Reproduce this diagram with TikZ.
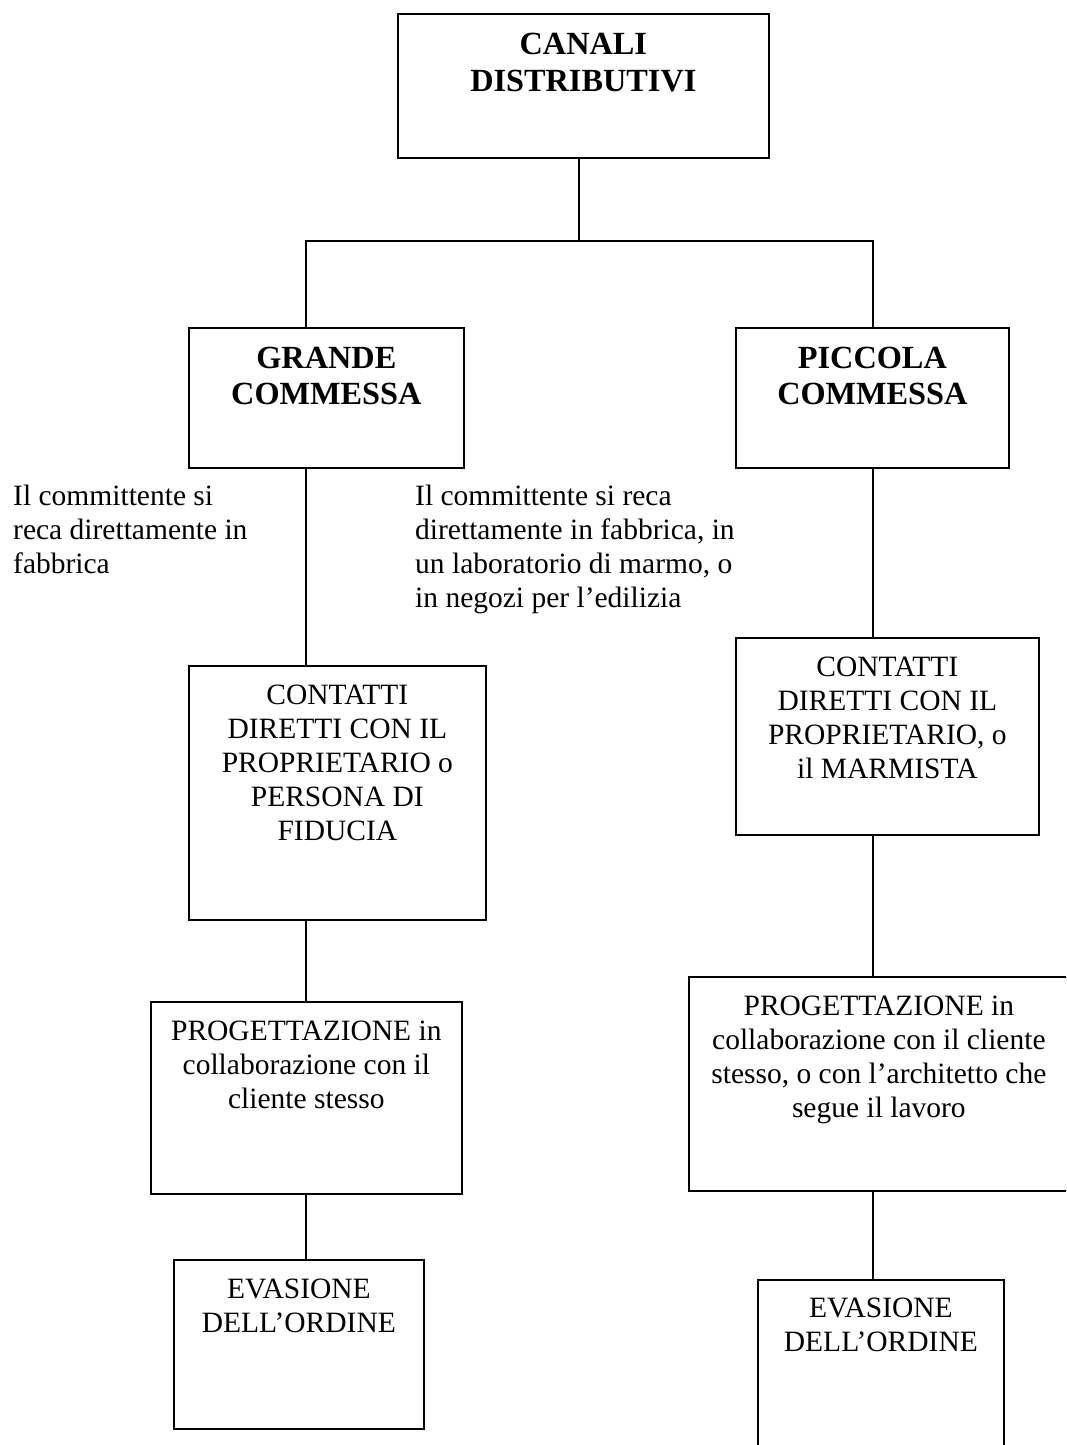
\documentclass[tikz,border=0pt]{standalone}
\usepackage{fontspec}
\setmainfont{Liberation Serif}
\begin{document}
\begin{tikzpicture}[x=1pt,y=-1pt,
  box/.style={draw, line width=1.7pt, inner sep=0pt, anchor=north west},
  txt/.style={font=\fontsize{29.5}{34}\selectfont, align=center, anchor=base, inner sep=0pt},
  btxt/.style={font=\fontsize{32.3}{36}\selectfont\bfseries, align=center, anchor=base, inner sep=0pt},
  note/.style={font=\fontsize{29.5}{34}\selectfont, align=left, anchor=base west, inner sep=0pt},
  link/.style={line width=1.7pt}]
\useasboundingbox (0,0) rectangle (1066,1445);
\clip (0,0) rectangle (1066,1445);
\fill[white] (0,0) rectangle (1066,1445);

% boxes
\node[box, minimum width=371pt, minimum height=144pt] (canali) at (397,13) {};
\node[box, minimum width=275pt, minimum height=140pt] (grande) at (188,327) {};
\node[box, minimum width=273pt, minimum height=140pt] (piccola) at (735,327) {};
\node[box, minimum width=297pt, minimum height=254pt] (contattiL) at (188,665) {};
\node[box, minimum width=311pt, minimum height=192pt] (progL) at (150,1001) {};
\node[box, minimum width=250pt, minimum height=169pt] (evasL) at (173,1259) {};
\node[box, minimum width=303pt, minimum height=197pt] (contattiR) at (735,637) {};
\node[box, minimum width=380pt, minimum height=214pt] (progR) at (688,976) {};
\node[box, minimum width=246pt, minimum height=200pt] (evasR) at (757,1279) {};

% box texts (anchored at the baseline of the last line)
\node[btxt] (tcanali) at ([yshift=-78pt]canali.north) {CANALI\\DISTRIBUTIVI};
\node[btxt] (tgrande) at ([yshift=-77pt]grande.north) {GRANDE\\COMMESSA};
\node[btxt] (tpiccola) at ([yshift=-77pt]piccola.north) {PICCOLA\\COMMESSA};
\node[txt] (tcontattiL) at ([yshift=-175pt]contattiL.north) {CONTATTI\\DIRETTI CON IL\\PROPRIETARIO o\\PERSONA DI\\FIDUCIA};
\node[txt] (tprogL) at ([yshift=-107pt]progL.north) {PROGETTAZIONE in\\collaborazione con il\\cliente stesso};
\node[txt] (tevasL) at ([yshift=-73pt]evasL.north) {EVASIONE\\DELL’ORDINE};
\node[txt] (tcontattiR) at ([yshift=-141pt]contattiR.north) {CONTATTI\\DIRETTI CON IL\\PROPRIETARIO, o\\il MARMISTA};
\node[txt] (tprogR) at ([yshift=-141pt]progR.north) {PROGETTAZIONE in\\collaborazione con il cliente\\stesso, o con l’architetto che\\segue il lavoro};
\node[txt] (tevasR) at ([yshift=-72pt]evasR.north) {EVASIONE\\DELL’ORDINE};

% side notes
\node[note] (noteL) at (13,573) {Il committente si\\reca direttamente in\\fabbrica};
\node[note] (noteR) at (415,607) {Il committente si reca\\direttamente in fabbrica, in\\un laboratorio di marmo, o\\in negozi per l’edilizia};

% connector columns and bus
\coordinate (xc) at (579,0);
\coordinate (xl) at (306,0);
\coordinate (xr) at (873,0);
\coordinate (busy) at (0,241);

\draw[link] (xc |- canali.south) -- (xc |- busy);
\draw[link] (xl |- grande.north) -- (xl |- busy) -- (xr |- busy) -- (xr |- piccola.north);
\draw[link] (xl |- grande.south) -- (xl |- contattiL.north);
\draw[link] (xl |- contattiL.south) -- (xl |- progL.north);
\draw[link] (xl |- progL.south) -- (xl |- evasL.north);
\draw[link] (xr |- piccola.south) -- (xr |- contattiR.north);
\draw[link] (xr |- contattiR.south) -- (xr |- progR.north);
\draw[link] (xr |- progR.south) -- (xr |- evasR.north);
\end{tikzpicture}
\end{document}
